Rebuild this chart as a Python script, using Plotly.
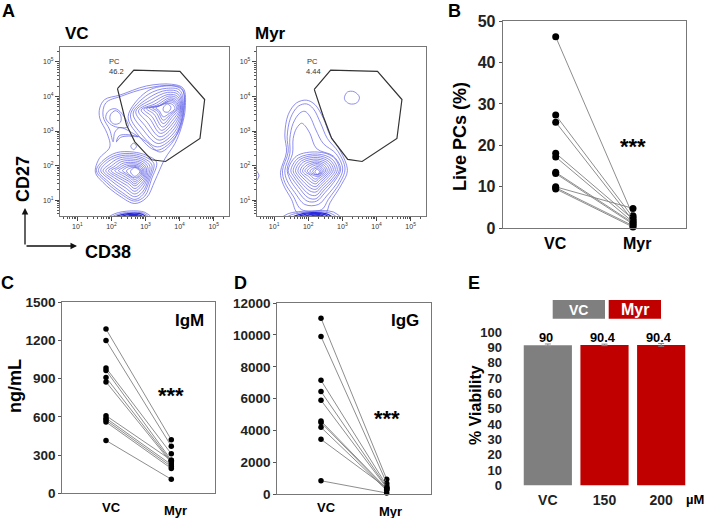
import plotly.graph_objects as go

FONT = "Liberation Sans"
W, H = 706, 518

# ---------- panel B, C, D: paired samples ----------
PAIR_CATS = ["VC", "Myr"]
B_VC = [46.2, 27.3, 25.6, 18.1, 17.2, 13.5, 13.2, 10.0, 9.8, 9.5]
B_MYR = [3.0, 2.6, 1.8, 2.2, 1.5, 1.3, 1.0, 4.8, 0.6, 0.3]
C_VC = [1290, 1200, 985, 965, 910, 875, 610, 590, 575, 560, 415]
C_MYR = [420, 370, 310, 260, 250, 240, 260, 225, 210, 195, 110]
D_VC = [11050, 9900, 7150, 6450, 5900, 4600, 4500, 4200, 3450, 850]
D_MYR = [950, 700, 550, 450, 400, 350, 300, 250, 400, 80]

# ---------- panel E: viability bars ----------
E_CATS = ["VC", "150", "200"]
E_VALUES = [91.3, 91.6, 91.6]
E_ERRORS = [0.9, 0.5, 0.9]
E_LABELS = ["90", "90.4", "90.4"]
E_COLORS = ["#7f7f7f", "#c00000", "#c00000"]

# ---------- panel A: traced FACS contours, in trace units (102 units per decade) ----------
VC_X10, MYR_X10, Y10 = 233, 133, 592
FLOW_TICKS = [10, 100, 1000, 10000, 100000]
FLOW_TICK_TEXT = ["10<sup>1</sup>", "10<sup>2</sup>", "10<sup>3</sup>", "10<sup>4</sup>", "10<sup>5</sup>"]

VC_GATE = [(353,263),(402,208),(540,212),(614,295),(600,410),(497,478),(455,473),(405,420),(380,370),(353,263)]
MYR_GATE = [(253,265),(302,208),(442,212),(515,295),(500,410),(396,478),(353,472),(305,410),(280,345),(253,265)]

VC_OUTER = [
 [(315,295),(360,282),(440,255),(515,250),(550,262),(556,320),(545,375),(525,425),(495,470),(465,535),(440,585),(405,602),(360,580),(310,540),(287,510),(298,470),(330,435),(322,395),(300,350),(300,320)],
 [(318,305),(365,285),(440,262),(515,254),(548,268),(552,320),(540,375),(515,425),(480,450),(440,420),(400,395),(360,378),(345,392),(340,420),(330,385),(310,345)],
]
VC_LEFT = [
 [(325,330),(345,322),(365,335),(385,375),(360,378),(335,370),(318,350)],
 [(332,340),(347,328),(362,340),(362,362),(345,368),(332,358)],
 [(393,433),(401,424),(410,433),(401,443)],
 [(350,420),(358,402),(385,399),(415,405),(385,403),(362,407)],
]
VC_UPPER = [
 [(385,345),(440,272),(500,255),(545,262),(553,320),(530,400),(470,445),(415,400)],
 [(392,340),(445,280),(500,262),(540,268),(550,320),(528,395),(472,435),(420,392)],
 [(400,335),(450,288),(500,268),(537,274),(548,320),(526,388),(475,425),(428,382)],
 [(408,330),(455,295),(503,274),(535,280),(546,320),(524,380),(478,415),(435,372)],
 [(416,328),(460,302),(505,280),(533,286),(544,320),(522,372),(480,405),(442,362)],
 [(424,326),(465,308),(507,285),(531,291),(542,320),(520,364),(482,395),(450,352)],
 [(432,324),(470,312),(509,290),(529,296),(540,320),(518,356),(485,386),(456,345)],
 [(440,322),(474,315),(511,294),(527,300),(537,320),(516,348),(488,376),(462,338)],
 [(448,320),(478,314),(512,298),(525,303),(534,320),(514,342),(490,366),(468,333)],
 [(458,320),(482,312),(505,302),(522,306),(530,322),(512,338),(490,356),(474,330)],
 [(468,320),(486,311),(503,306),(518,310),(525,322),(508,336),(490,346),(478,328)],
 [(490,320),(502,308),(513,318),(505,332),(492,330)],
]
VC_LOWER = [
 [(290,505),(310,475),(350,452),(400,450),(440,460),(470,480),(455,530),(435,580),(405,595),(365,575),(320,540)],
 [(296,505),(315,478),(352,458),(400,455),(437,465),(462,484),(450,530),(430,575),(405,590),(368,570),(325,537)],
 [(303,505),(320,482),(355,463),(400,460),(434,470),(456,488),(446,530),(428,568),(405,582),(372,562),(332,533)],
 [(310,505),(328,487),(358,468),(400,465),(431,474),(450,492),(442,530),(425,560),(405,574),(376,555),(338,530)],
 [(318,505),(335,491),(362,473),(400,471),(428,478),(444,495),(439,528),(423,552),(405,566),(380,548),(345,527)],
 [(326,505),(342,494),(366,478),(400,476),(425,482),(439,497),(436,526),(421,546),(405,558),(384,542),(352,524)],
 [(334,505),(350,496),(370,483),(400,481),(423,486),(435,499),(433,524),(419,540),(405,550),(386,536),(360,522)],
 [(345,505),(358,497),(375,487),(400,485),(421,490),(431,501),(430,522),(417,535),(405,544),(388,531),(368,519)],
 [(356,505),(366,498),(380,491),(400,489),(419,493),(428,503),(427,520),(416,530),(405,538),(391,526),(375,516)],
 [(368,505),(375,499),(385,494),(402,492),(417,496),(425,505),(424,518),(414,526),(405,532),(393,522),(380,514)],
 [(380,506),(390,498),(405,495),(418,500),(423,510),(415,522),(403,526),(390,518)],
 [(392,508),(405,496),(420,508),(405,522)],
]
VC_STRIP = [
 [(313,650),(345,632),(390,624),(435,628),(463,650)],
 [(322,650),(350,635),(390,628),(432,631),(455,650)],
 [(332,650),(355,638),(392,631),(428,634),(447,650)],
 [(345,650),(365,640),(395,634),(422,637),(438,650)],
 [(355,650),(375,642),(398,637),(418,640),(430,650)],
 [(365,650),(385,644),(402,640),(415,643),(425,650)],
]
MYR_MAIN = [
 [(152,510),(170,450),(165,400),(175,340),(200,305),(230,297),(255,310),(280,350),(300,400),(330,445),(352,505),(335,545),(300,600),(285,632),(205,632),(185,590),(160,545)],
 [(158,505),(175,450),(172,405),(182,350),(205,315),(230,308),(250,322),(272,365),(292,410),(325,450),(345,500),(330,540),(295,590),(275,620),(215,620),(190,580),(165,540)],
 [(165,505),(180,455),(180,410),(190,365),(210,335),(225,330),(240,345),(258,385),(280,425),(318,455),(338,500),(325,535),(290,580),(265,605),(225,605),(195,570),(172,535)],
 [(172,500),(188,455),(190,410),(200,380),(215,365),(225,372),(240,395),(260,440),(310,462),(332,500),(318,530),(285,570),(260,595),(232,595),(200,560),(180,530)],
 [(175,505),(200,462),(262,450),(310,465),(328,502),(312,530),(280,565),(258,588),(235,585),(205,552),(185,525)],
 [(183,505),(205,468),(262,456),(305,470),(322,502),(307,528),(278,558),(258,578),(238,575),(210,547),(192,523)],
 [(190,505),(210,472),(262,461),(300,474),(316,502),(302,525),(275,552),(258,568),(240,565),(215,542),(198,521)],
 [(197,505),(215,476),(262,466),(296,478),(310,502),(297,522),(273,546),(258,560),(243,557),(220,537),(204,519)],
 [(204,505),(220,480),(262,471),(292,482),(304,503),(292,520),(271,540),(258,552),(245,549),(225,532),(210,517)],
 [(211,505),(226,484),(262,476),(288,486),(298,504),(288,518),(269,534),(258,544),(247,541),(230,527),(216,515)],
 [(218,505),(232,488),(262,480),(284,490),(292,505),(284,516),(267,528),(258,537),(249,534),(236,522),(222,513)],
 [(225,505),(238,491),(262,484),(280,493),(287,506),(280,514),(266,523),(258,530),(250,527),(240,517),(229,511)],
 [(232,506),(243,495),(262,488),(276,496),(282,507),(274,514),(262,522),(248,518),(238,512)],
 [(240,506),(250,498),(264,493),(274,500),(277,508),(268,515),(256,517),(245,512)],
 [(248,507),(262,497),(273,507),(262,518)],
 [(255,508),(262,501),(269,508),(262,516)],
 [(343,290),(352,273),(372,272),(388,288),(380,305),(360,308),(347,300)],
]
MYR_STRIP = [
 [(148,650),(175,632),(240,624),(310,627),(340,650)],
 [(160,650),(185,635),(240,627),(300,630),(330,650)],
 [(175,650),(200,637),(245,629),(290,633),(318,650)],
 [(190,650),(212,638),(250,631),(284,635),(308,650)],
 [(205,650),(225,640),(255,633),(278,638),(298,650)],
 [(218,650),(235,642),(258,636),(272,640),(288,650)],
 [(230,650),(245,643),(260,639),(270,643),(280,650)],
]
MYR_EDGE = [
 [(80,505),(88,520),(80,535)],
 [(80,638),(90,648)],
]


def px(x):
    return x / W


def py(y):
    return 1 - y / H


def val_x(u, x10):
    return 10 ** (1 + (u - x10) / 102)


def val_y(u):
    return 10 ** (1 + (Y10 - u) / 102)


fig = go.Figure()
LIGHT = "#6868e8"
DARK = "#2a2ae0"


def loops_trace(loops, x10, axis, closed=True, width=0.75, color=LIGHT, shape="spline"):
    xs, ys = [], []
    for lp in loops:
        pts = lp + [lp[0]] if closed else lp
        xs += [val_x(p[0], x10) for p in pts] + [None]
        ys += [val_y(p[1]) for p in pts] + [None]
    fig.add_trace(go.Scatter(x=xs, y=ys, mode="lines", xaxis="x" + axis, yaxis="y" + axis,
                             line=dict(color=color, width=width, shape=shape, smoothing=1.0),
                             hoverinfo="skip", showlegend=False))


loops_trace(VC_OUTER + VC_LEFT + VC_UPPER + VC_LOWER, VC_X10, "")
loops_trace(VC_STRIP[:2], VC_X10, "", closed=False)
loops_trace(VC_STRIP[2:], VC_X10, "", closed=False, width=1.3, color=DARK)
loops_trace([VC_GATE], VC_X10, "", closed=False, width=1.2, color="#333333", shape="linear")
loops_trace(MYR_MAIN, MYR_X10, "2")
loops_trace(MYR_STRIP[:2], MYR_X10, "2", closed=False)
loops_trace(MYR_STRIP[2:], MYR_X10, "2", closed=False, width=1.3, color=DARK)
loops_trace(MYR_EDGE, MYR_X10, "2", closed=False)
loops_trace([MYR_GATE], MYR_X10, "2", closed=False, width=1.2, color="#333333", shape="linear")


def paired(vc, myr, axis, msize):
    for a, b in zip(vc, myr):
        fig.add_trace(go.Scatter(x=[0, 1], y=[a, b], mode="lines+markers", xaxis="x" + axis, yaxis="y" + axis,
                                 line=dict(color="#808080", width=0.9),
                                 marker=dict(color="black", size=msize),
                                 showlegend=False, cliponaxis=False))


paired(B_VC, B_MYR, "3", 7)
paired(C_VC, C_MYR, "4", 5.5)
paired(D_VC, D_MYR, "5", 5.5)

fig.add_trace(go.Bar(x=E_CATS, y=E_VALUES, xaxis="x6", yaxis="y6", marker=dict(color=E_COLORS, line=dict(width=0)),
                     width=0.85, error_y=dict(type="data", array=E_ERRORS, color="#888888", thickness=1, width=3),
                     showlegend=False))


def flow_axes(left, right):
    ax = dict(type="log", range=[0.49, 5.45], domain=[px(left), px(right)], automargin=False,
              tickmode="array", tickvals=FLOW_TICKS, ticktext=FLOW_TICK_TEXT,
              showgrid=False, zeroline=False, showline=True, mirror=True,
              linecolor="#777777", linewidth=1, ticks="outside", ticklen=4, tickcolor="#444444", tickwidth=1,
              tickfont=dict(family=FONT, size=7, color="#333333"),
              minor=dict(ticks="outside", ticklen=2, tickcolor="#555555", dtick="D1", showgrid=False))
    return ax


def flow_y(top, bottom):
    ax = flow_axes(0, 1)
    ax["domain"] = [py(bottom), py(top)]
    ax["range"] = [0.54, 5.44]
    return ax


def pair_x(left, right, p0, p1):
    unit = p1 - p0
    return dict(range=[(left - p0) / unit, 1 + (right - p1) / unit], domain=[px(left), px(right)], automargin=False,
                showgrid=False, zeroline=False, showline=True, mirror=True, linecolor="#777777", linewidth=1,
                ticks="", showticklabels=False)


def pair_y(top, bottom, ymax, dtick, fsize):
    return dict(range=[0, ymax], domain=[py(bottom), py(top)], dtick=dtick, tickformat="d", automargin=False,
                showgrid=False, zeroline=False,
                showline=True, mirror=True, linecolor="#777777", linewidth=1, ticks="outside", ticklen=3,
                tickcolor="#555555", tickfont=dict(family=FONT, size=fsize, color="#222222", weight="bold"))


layout = dict(
    width=W, height=H, autosize=False, margin=dict(l=0, r=0, t=0, b=0),
    paper_bgcolor="white", plot_bgcolor="white", showlegend=False, bargap=0.15,
    xaxis=dict(flow_axes(60, 229), anchor="y"), yaxis=dict(flow_y(46.7, 216), anchor="x"),
    xaxis2=dict(flow_axes(256.7, 426), anchor="y2"), yaxis2=dict(flow_y(46.7, 216), anchor="x2"),
    xaxis3=dict(pair_x(502.7, 686, 555.7, 633), anchor="y3"),
    yaxis3=dict(pair_y(21, 228.3, 50, 10, 16), anchor="x3"),
    xaxis4=dict(pair_x(62.3, 215, 106, 171.3), anchor="y4"),
    yaxis4=dict(pair_y(302.3, 493.3, 1500, 300, 13.5), anchor="x4"),
    xaxis5=dict(pair_x(277.3, 430.7, 321, 386.7), anchor="y5"),
    yaxis5=dict(pair_y(303, 494.3, 12000, 2000, 13.5), anchor="x5"),
    xaxis6=dict(domain=[px(519.5), px(689.5)], range=[-0.5, 2.5], showgrid=False, zeroline=False, showline=False,
                automargin=False,
                ticks="outside", ticklen=2, tickcolor="rgba(0,0,0,0)", type="category", anchor="y6",
                tickfont=dict(family=FONT, size=14, color="#222222", weight="bold")),
    yaxis6=dict(domain=[py(485.5), py(332)], range=[0, 100], dtick=10, showgrid=False, zeroline=False, showline=False,
                automargin=False, ticklen=14, tickcolor="rgba(0,0,0,0)",
                ticks="outside", anchor="x6", tickfont=dict(family=FONT, size=13, color="#222222", weight="bold")),
)


def note(x, y, text, size, angle=0, color="black", bold=True):
    return dict(x=px(x), y=py(y), xref="paper", yref="paper", text=f"<b>{text}</b>" if bold else text,
                showarrow=False, textangle=angle, xanchor="center", yanchor="middle",
                font=dict(family=FONT, size=size, color=color))


notes = [
    note(8, 11, "A", 18), note(454, 11, "B", 18), note(7, 283, "C", 18), note(241, 283, "D", 18), note(474, 283, "E", 18),
    note(77, 34, "VC", 17), note(270, 34, "Myr", 17),
    note(115, 62, "PC", 7.5, color="#333333", bold=False), note(116, 72, "46.2", 7.5, color="#333333", bold=False),
    note(312, 62, "PC", 7.5, color="#333333", bold=False), note(313, 72, "4.44", 7.5, color="#333333", bold=False),
    note(23, 179, "CD27", 18, angle=-90), note(108, 252, "CD38", 18),
    note(555.7, 243, PAIR_CATS[0], 16), note(637, 243, PAIR_CATS[1], 16),
    note(460, 136, "Live PCs (%)", 18, angle=-90),
    note(633, 146, "***", 22),
    note(111, 507, PAIR_CATS[0], 13), note(175, 510, PAIR_CATS[1], 13),
    note(15, 386, "ng/mL", 18, angle=-90),
    note(190, 320, "IgM", 17), note(171, 395, "***", 22),
    note(326, 507.5, PAIR_CATS[0], 13), note(390, 511, PAIR_CATS[1], 13),
    note(405, 320, "IgG", 17), note(386.7, 418, "***", 22),
    note(475, 405, "% Viability", 16, angle=-90),
    note(695, 499, "µM", 13),
    note(578.8, 309.5, "VC", 14, color="white"), note(635, 309.5, "Myr", 16, color="white"),
]
for cat_x, lab in zip([546.3, 603.3, 659.3], E_LABELS):
    notes.append(note(cat_x, 337, lab, 12.8))

# axis arrows of panel A
for tail, head in [((25, 246), (25, 208)), ((25, 246), (77, 246))]:
    notes.append(dict(x=px(head[0]), y=py(head[1]), ax=tail[0] - head[0], ay=tail[1] - head[1], xref="paper", yref="paper",
                      axref="pixel", ayref="pixel", text="", showarrow=True, arrowhead=2, arrowsize=1,
                      arrowwidth=1.3, arrowcolor="#111111"))

shapes = [
    dict(type="rect", xref="paper", yref="paper", x0=px(552.7), x1=px(605), y0=py(318.7), y1=py(300),
         fillcolor="#7f7f7f", line=dict(width=0)),
    dict(type="rect", xref="paper", yref="paper", x0=px(608.7), x1=px(661), y0=py(318.7), y1=py(300),
         fillcolor="#c00000", line=dict(width=0)),
]

fig.update_layout(**layout, annotations=notes, shapes=shapes)
fig.write_html("out.html", post_script="document.body.style.margin='0';", config={"displayModeBar": False})
